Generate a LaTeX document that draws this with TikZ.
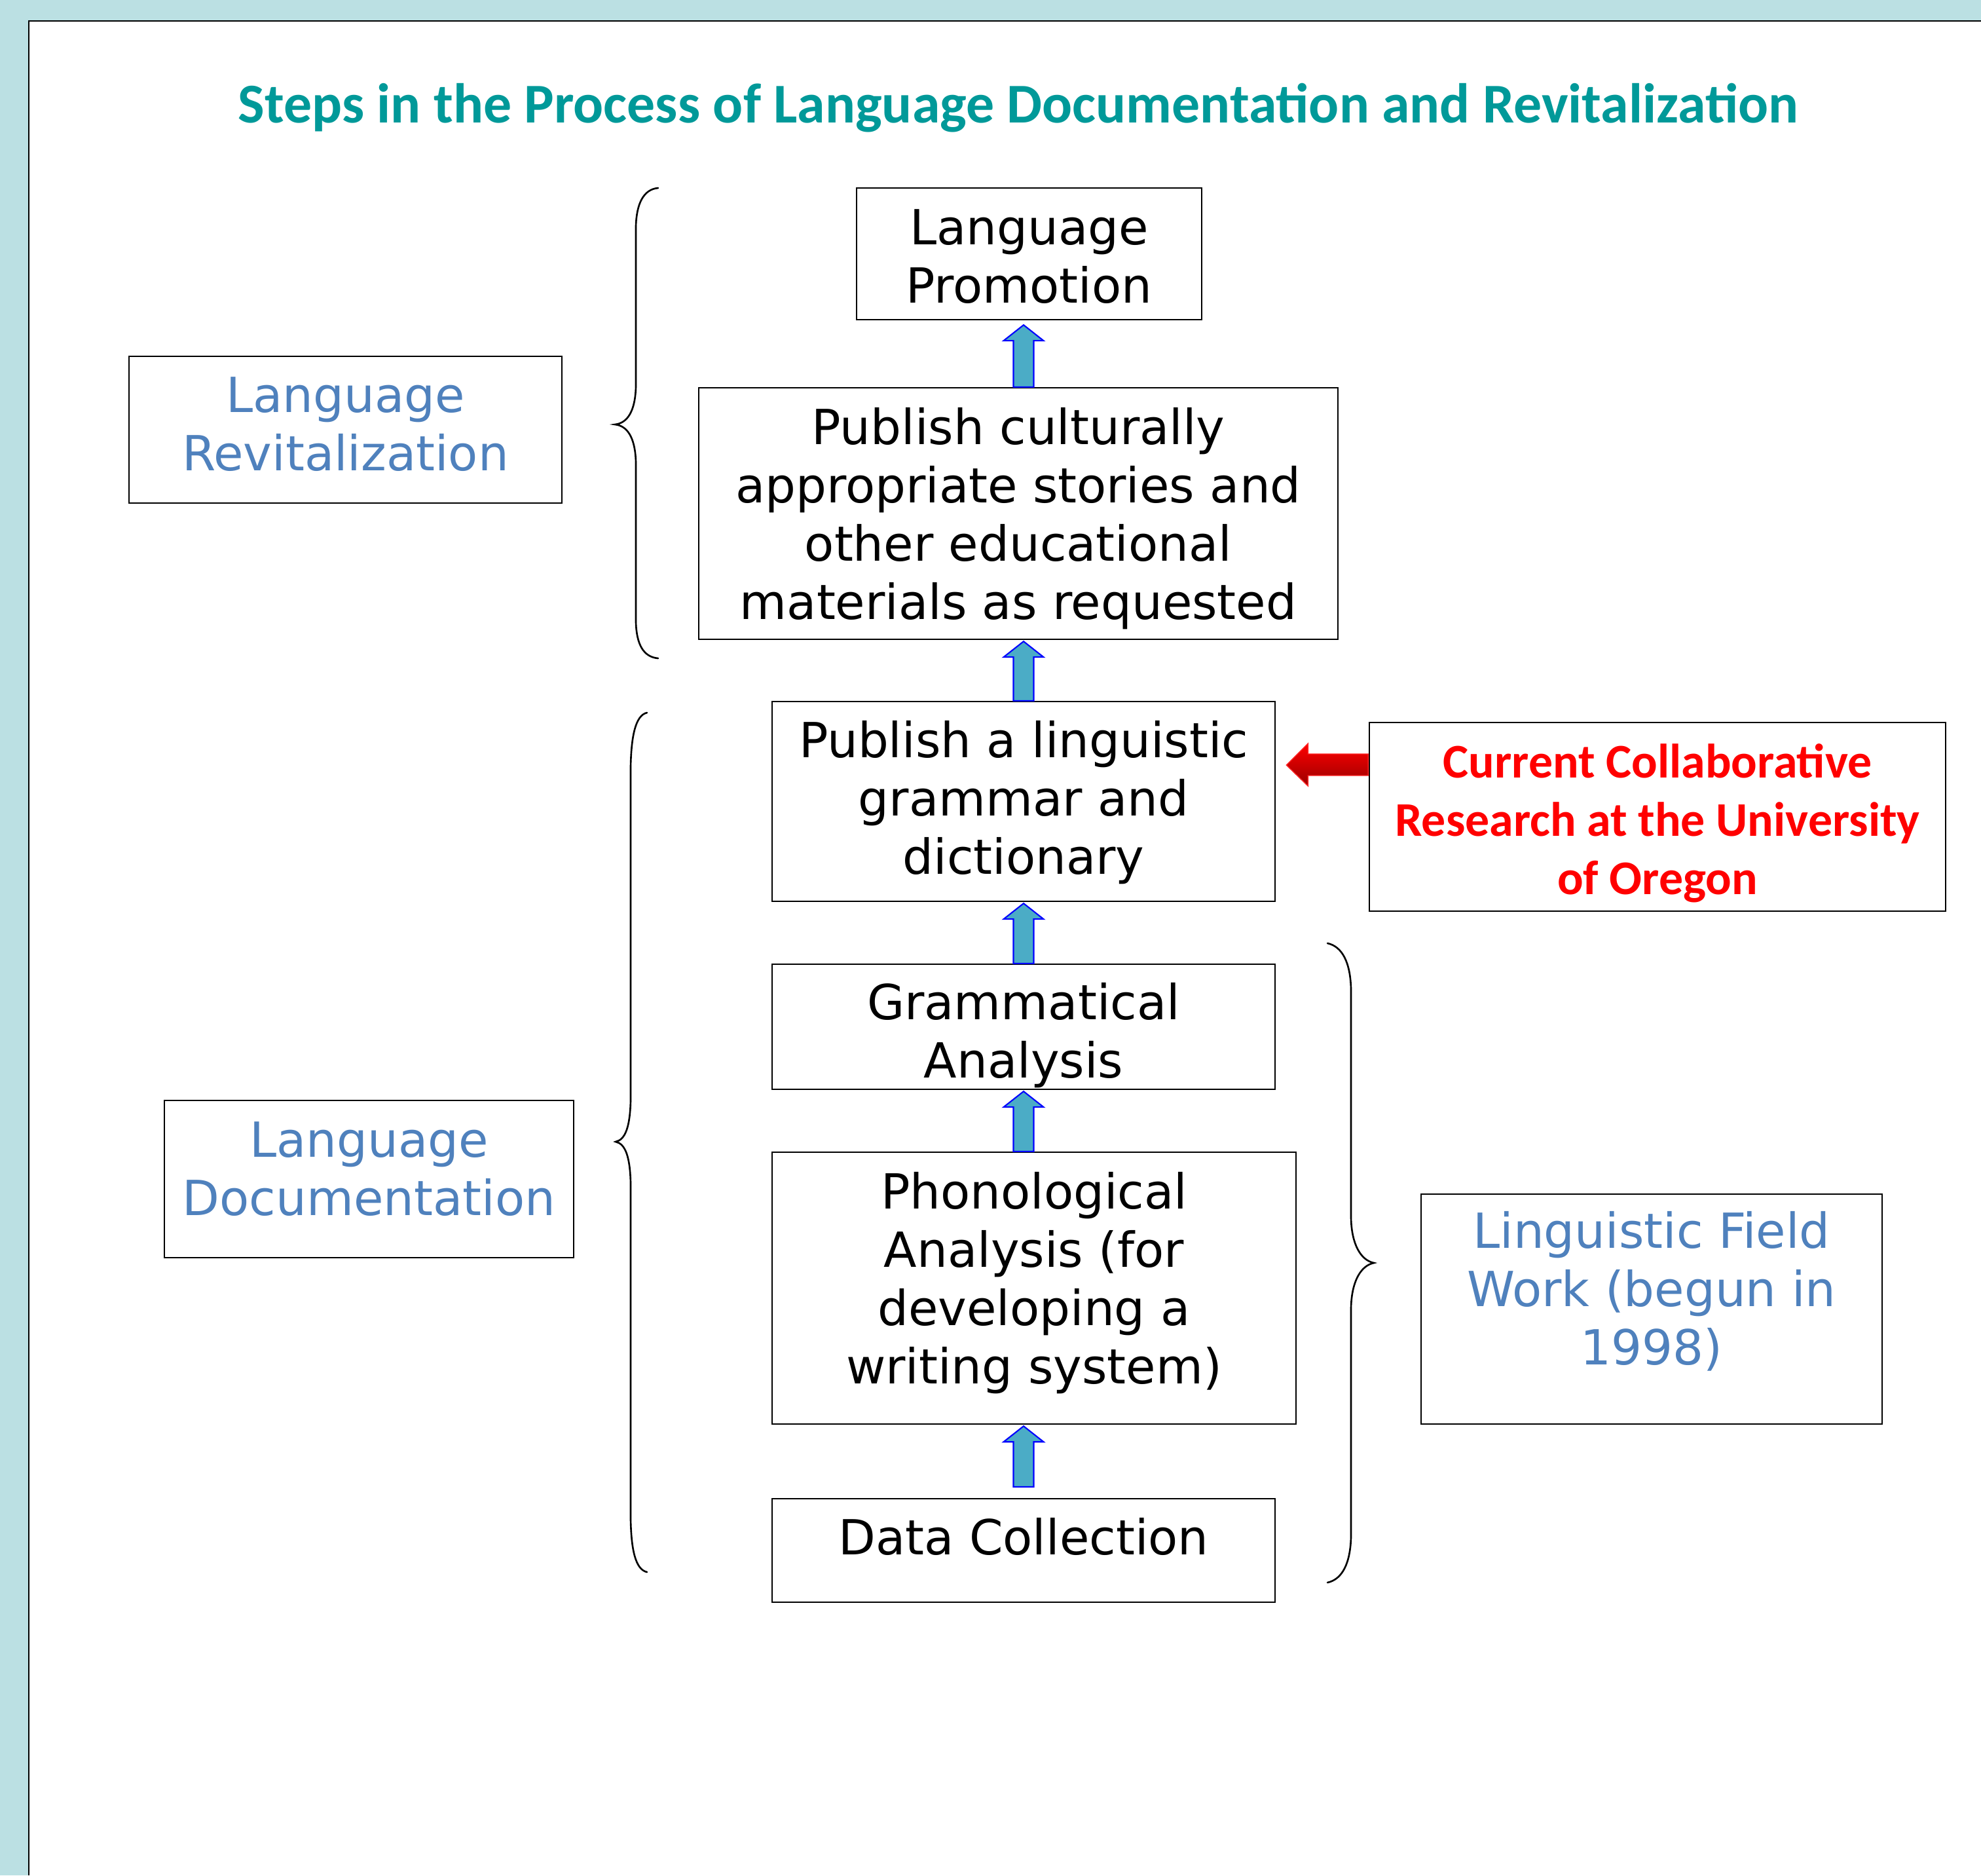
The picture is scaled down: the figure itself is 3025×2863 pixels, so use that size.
\documentclass[tikz,border=0pt]{standalone}
\usepackage{fontspec}
\setmainfont{DejaVu Sans}
\newfontfamily\carlito{Carlito}
\usetikzlibrary{calc}
\definecolor{bordercol}{HTML}{BBE0E3}
\definecolor{titlecol}{HTML}{009999}
\definecolor{labelblue}{HTML}{4F81BD}
\definecolor{arrowfill}{HTML}{4BACC6}
\definecolor{darkred}{HTML}{990000}
\newcommand\blockup[2]{\draw[barrow] ($#1+(-15.5,0)$) -- ($#2+(-15.5,24)$) -- ($#2+(-30.5,24)$) -- #2 -- ($#2+(30.5,24)$) -- ($#2+(15.5,24)$) -- ($#1+(15.5,0)$) -- cycle;}
\begin{document}
\begin{tikzpicture}[x=0.01cm,y=-0.01cm,
  box/.style={draw=black, line width=0.6pt, fill=white, inner sep=0pt},
  lbl/.style={inner sep=0pt, align=center, font=\fontsize{21}{25.3}\selectfont},
  bluelbl/.style={lbl, text=labelblue},
  redlbl/.style={lbl, text=red, font=\carlito\bfseries\fontsize{21}{25.3}\selectfont},
  brace/.style={line width=0.75pt, line cap=round},
  barrow/.style={fill=arrowfill, draw=blue, line width=0.6pt},
  redarrow/.style={top color=red, bottom color=darkred, draw=red!85!white, line width=0.4pt}]
\useasboundingbox (0,0) rectangle (3025,2863);
% background frame
\fill[bordercol] (0,0) rectangle (3025,2863);
\fill[white] (44,32) rectangle (3025,2863);
\draw[line width=0.6pt] (44,2863) -- (44,32) -- (3025,32);
% title
\node[anchor=base, inner sep=0pt, text=titlecol, font=\carlito\bfseries\fontsize{24.4}{29}\selectfont] (title) at (1555,187)
  {Steps in the Process of Language Documentation and Revitalization};
% main column
\node[box, minimum width=5.27cm, minimum height=2.01cm,
  label={[lbl, yshift=-0.04cm]center:Language\\Promotion}] (promo) at (1571.5,387.5) {};
\node[box, minimum width=9.76cm, minimum height=3.84cm,
  label={[lbl, yshift=-0.08cm]center:Publish culturally\\appropriate stories and\\other educational\\materials as requested}] (cult) at (1555,784) {};
\node[box, minimum width=7.68cm, minimum height=3.05cm,
  label={[lbl, yshift=-0.02cm]center:Publish a linguistic\\grammar and\\dictionary}] (ling) at (1563,1223.5) {};
\node[box, minimum width=7.68cm, minimum height=1.91cm,
  label={[lbl, yshift=-0.13cm]center:Grammatical\\Analysis}] (gram) at (1563,1567.5) {};
\node[box, minimum width=8.00cm, minimum height=4.15cm,
  label={[lbl, yshift=0.08cm]center:Phonological\\Analysis (for\\developing a\\writing system)}] (phon) at (1579,1966.5) {};
\node[box, minimum width=7.68cm, minimum height=1.58cm,
  label={[lbl, yshift=0.21cm]center:Data Collection}] (data) at (1563,2367) {};
% side labels
\node[box, minimum width=6.61cm, minimum height=2.24cm,
  label={[bluelbl, yshift=0.08cm]center:Language\\Revitalization}] (revit) at (527.5,656) {};
\node[box, minimum width=6.25cm, minimum height=2.40cm,
  label={[bluelbl, yshift=0.15cm]center:Language\\Documentation}] (doc) at (563.5,1800) {};
\node[box, minimum width=8.80cm, minimum height=2.88cm,
  label={[redlbl, yshift=-0.10cm]center:Current Collaborative\\Research at the University\\of Oregon}] (curr) at (2531,1247) {};
\node[box, minimum width=7.04cm, minimum height=3.51cm,
  label={[bluelbl, yshift=0.27cm]center:Linguistic Field\\Work (begun in\\1998)}] (field) at (2522,1998.5) {};
% blue block arrows
\coordinate (ax) at (1563,0);
\coordinate (t1) at ($(ax |- promo.south)+(0,7)$);
\coordinate (b1) at (ax |- cult.north);
\coordinate (t2) at ($(ax |- cult.south)+(0,2)$);
\coordinate (b2) at (ax |- ling.north);
\coordinate (t3) at ($(ax |- ling.south)+(0,2)$);
\coordinate (b3) at (ax |- gram.north);
\coordinate (t4) at ($(ax |- gram.south)+(0,2)$);
\coordinate (b4) at (ax |- phon.north);
\coordinate (t5) at ($(ax |- phon.south)+(0,2)$);
\coordinate (b5) at ($(ax |- data.north)+(0,-17)$);
\blockup{(b1)}{(t1)}
\blockup{(b2)}{(t2)}
\blockup{(b3)}{(t3)}
\blockup{(b4)}{(t4)}
\blockup{(b5)}{(t5)}
% red arrow
\coordinate (ry) at (0,1168);
\coordinate (rtip) at ($(ling.east |- ry)+(16,0)$);
\draw[redarrow] (rtip) -- ++(33,-33) -- ++(0,16) -- ++(92,0) -- ++(0,33) -- ++(-92,0) -- ++(0,16) -- cycle;
% braces
\draw[brace] (1005,287) .. controls (982,289) and (972,312) .. (971,345) -- (971,590)
  .. controls (970,628) and (958,646) .. (939,648)
  .. controls (958,650) and (970,668) .. (971,706) -- (971,950)
  .. controls (972,983) and (982,1003) .. (1005,1005);
\draw[brace] (988,1088) .. controls (970,1092) and (964,1125) .. (963,1170) -- (963,1680)
  .. controls (962,1720) and (955,1740) .. (940,1743)
  .. controls (955,1746) and (962,1766) .. (963,1806) -- (963,2320)
  .. controls (964,2365) and (970,2396) .. (988,2400);
\draw[brace] (2027,1440) .. controls (2050,1445) and (2062,1470) .. (2063,1510) -- (2063,1860)
  .. controls (2064,1900) and (2078,1924) .. (2098,1928)
  .. controls (2078,1932) and (2064,1956) .. (2063,1996) -- (2063,2346)
  .. controls (2062,2386) and (2050,2411) .. (2027,2416);
\end{tikzpicture}
\end{document}
